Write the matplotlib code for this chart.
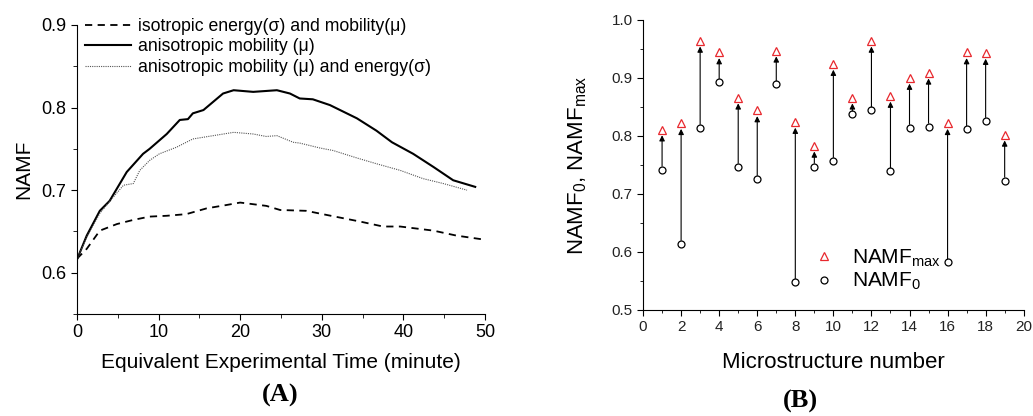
import matplotlib
matplotlib.use("Agg")
import matplotlib.pyplot as plt
from matplotlib.lines import Line2D

plt.rcParams['font.family'] = ['Liberation Sans', 'DejaVu Sans']
plt.rcParams['mathtext.fontset'] = 'custom'
plt.rcParams['mathtext.rm'] = 'Liberation Sans'
plt.rcParams['mathtext.it'] = 'Liberation Sans'
plt.rcParams['mathtext.default'] = 'rm'

# (A) NAMF vs equivalent experimental time
t_iso = [0, 1.2, 2.8, 4.9, 6.9, 8.9, 11.0, 13.4, 15.9, 18.3, 20.0, 23.2, 24.9,
         28.1, 30.6, 34.7, 37.5, 39.6, 43.7, 46.5, 50.0]
namf_iso = [0.617, 0.629, 0.651, 0.659, 0.664, 0.668, 0.669, 0.671, 0.678, 0.682,
            0.685, 0.681, 0.676, 0.675, 0.670, 0.662, 0.656, 0.656, 0.651, 0.645, 0.640]

t_mob = [0, 1.2, 2.8, 4.0, 6.1, 8.1, 8.9, 11.0, 12.6, 13.6, 14.2, 15.5, 16.7, 17.9,
         19.2, 21.6, 24.5, 26.1, 27.3, 28.9, 31.0, 34.3, 36.7, 38.6, 41.2, 43.7,
         46.1, 48.8]
namf_mob = [0.616, 0.645, 0.675, 0.687, 0.722, 0.744, 0.750, 0.768, 0.785, 0.786,
            0.793, 0.797, 0.807, 0.817, 0.821, 0.819, 0.821, 0.817, 0.811, 0.810,
            0.803, 0.787, 0.772, 0.758, 0.744, 0.728, 0.712, 0.704]

t_mob_en = [0, 1.2, 2.8, 4.4, 5.7, 6.9, 7.7, 8.9, 10.1, 12.2, 14.2, 16.7, 19.2,
            21.6, 23.2, 24.5, 26.5, 27.3, 29.8, 31.4, 34.3, 36.7, 39.6, 42.4,
            44.9, 47.8]
namf_mob_en = [0.616, 0.643, 0.672, 0.691, 0.706, 0.708, 0.724, 0.736, 0.744,
               0.752, 0.762, 0.766, 0.770, 0.768, 0.765, 0.766, 0.758, 0.757,
               0.751, 0.748, 0.739, 0.732, 0.724, 0.714, 0.708, 0.700]

# (B) NAMF per microstructure
micro = list(range(1, 20))
namf_max = [0.811, 0.822, 0.964, 0.944, 0.866, 0.844, 0.947, 0.824, 0.783, 0.924,
            0.866, 0.964, 0.869, 0.900, 0.909, 0.822, 0.944, 0.943, 0.802]
namf_0 = [0.742, 0.614, 0.814, 0.893, 0.747, 0.726, 0.889, 0.548, 0.747, 0.757,
          0.837, 0.844, 0.739, 0.814, 0.816, 0.582, 0.812, 0.826, 0.723]

fig = plt.figure(figsize=(10.33, 4.16), dpi=100)

# ---- panel A
ax1 = fig.add_axes([0.0745, 0.245, 0.395, 0.695])
ax1.plot(t_iso, namf_iso, color='k', lw=1.3, ls=(0, (4, 3)),
         label='isotropic energy(σ) and mobility(μ)')
ax1.plot(t_mob, namf_mob, color='k', lw=1.5, label='anisotropic mobility (μ)')
ax1.plot(t_mob_en, namf_mob_en, color='#555555', lw=0.8, ls=(0, (1, 1)),
         label='anisotropic mobility (μ) and energy(σ)')
ax1.set_xlim(0, 50)
ax1.set_ylim(0.55, 0.9)
ax1.set_xticks(range(0, 51, 10))
ax1.set_xticks(range(0, 51, 5), minor=True)
ax1.set_yticks([0.6, 0.7, 0.8, 0.9])
ax1.set_yticks([0.55, 0.65, 0.75, 0.85], minor=True)
for s in ['top', 'right']:
    ax1.spines[s].set_visible(False)
ax1.tick_params(direction='out', labelsize=13, length=4)
ax1.tick_params(which='minor', direction='out', length=3)
ax1.set_xlabel('Equivalent Experimental Time (minute)', fontsize=15, labelpad=8)
ax1.set_ylabel('NAMF', fontsize=15, labelpad=6)
ax1.legend(loc='center left', bbox_to_anchor=(0.0196, 0.924), frameon=False,
           fontsize=12.7, handlelength=2.6, handletextpad=0.4, labelspacing=0.2,
           borderpad=0, borderaxespad=0)

# ---- panel B
ax2 = fig.add_axes([0.6225, 0.255, 0.3685, 0.697])
for i, lo, hi in zip(micro, namf_0, namf_max):
    ax2.annotate('', xy=(i, hi - 0.0098), xytext=(i, lo + 0.006),
                 arrowprops=dict(arrowstyle='-|>', color='k', lw=0.8,
                                 mutation_scale=8, shrinkA=0, shrinkB=0))
ax2.plot(micro, namf_max, ls='none', marker='^', ms=5.5, mfc='none', mec='#e8282e',
         mew=0.9)
ax2.plot(micro, namf_0, ls='none', marker='o', ms=5, mfc='none', mec='k', mew=0.9)
ax2.set_xlim(0, 20)
ax2.set_ylim(0.5, 1.0)
ax2.set_xticks(range(0, 21, 2))
ax2.set_xticks(range(0, 21, 1), minor=True)
ax2.set_yticks([0.5, 0.6, 0.7, 0.8, 0.9, 1.0])
ax2.set_yticks([0.55, 0.65, 0.75, 0.85, 0.95], minor=True)
for s in ['top', 'right']:
    ax2.spines[s].set_visible(False)
ax2.tick_params(direction='out', labelsize=11, length=4, labelcolor='#222222')
ax2.tick_params(which='minor', direction='out', length=2.5)
ax2.set_xlabel('Microstructure number', fontsize=16, labelpad=13)
ax2.set_ylabel('NAMF$_0$, NAMF$_{max}$', fontsize=16, labelpad=16)
handles = [Line2D([], [], ls='none', marker='^', ms=5.5, mfc='none', mec='#e8282e', mew=0.9),
           Line2D([], [], ls='none', marker='o', ms=5, mfc='none', mec='k', mew=0.9)]
ax2.legend(handles, ['NAMF$_{max}$', 'NAMF$_0$'], loc='center left',
           bbox_to_anchor=(0.449, 0.138), frameon=False, fontsize=15,
           handlelength=1, handletextpad=0.83, labelspacing=0.1,
           borderpad=0, borderaxespad=0)

fig.text(0.271, 0.05, '(A)', family='Liberation Serif', weight='bold',
         fontsize=19, ha='center', va='center')
fig.text(0.775, 0.035, '(B)', family='Liberation Serif', weight='bold',
         fontsize=19, ha='center', va='center')

fig.savefig('out.png', dpi=100)
